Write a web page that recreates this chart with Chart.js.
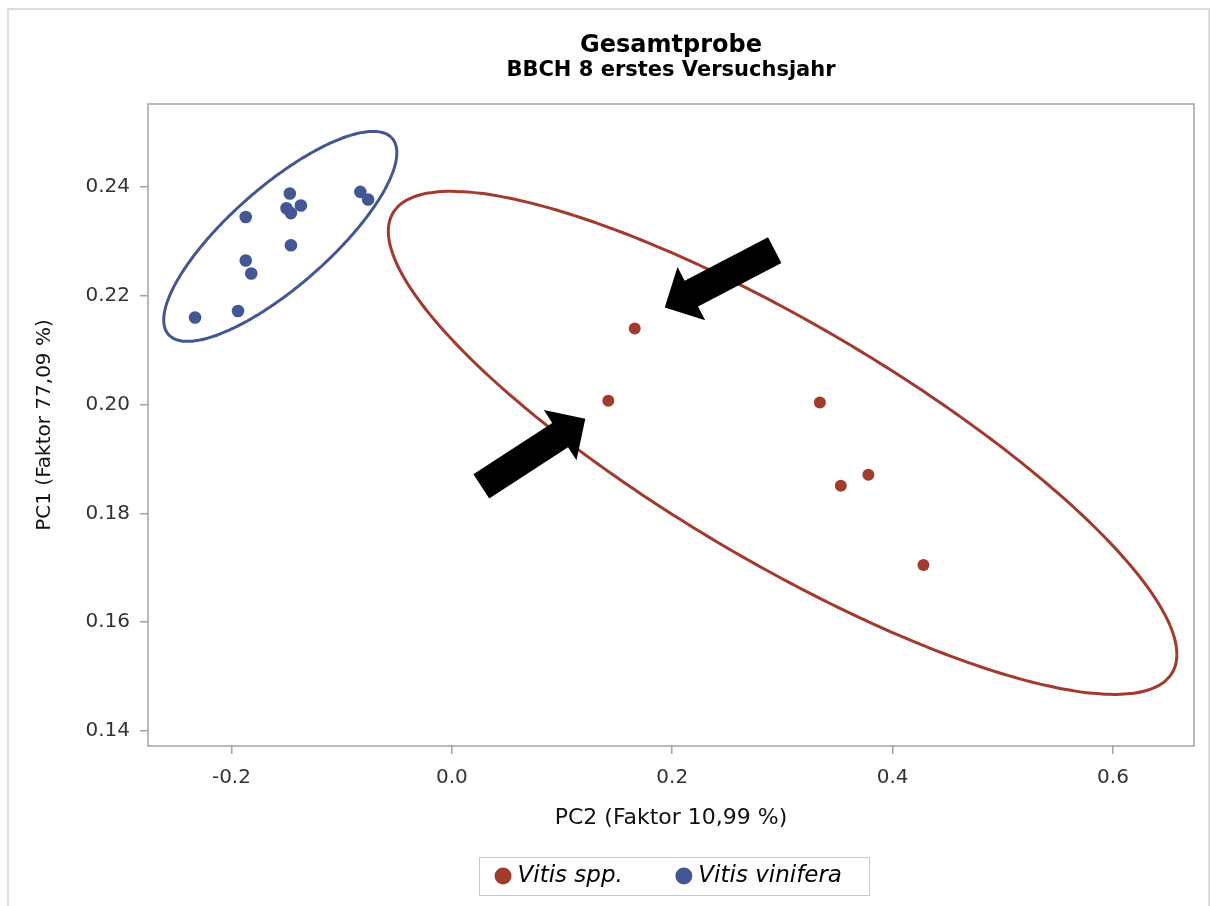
<!DOCTYPE html>
<html>
<head>
<meta charset="utf-8">
<title>Gesamtprobe - BBCH 8 erstes Versuchsjahr</title>
<script src="https://cdn.jsdelivr.net/npm/chart.js@4.4.1/dist/chart.umd.min.js"></script>
<style>
  html, body { margin: 0; padding: 0; background: #fff; }
  canvas { display: block; }
</style>
</head>
<body>
<canvas id="pcaChart" width="1212" height="906"></canvas>
<script>
// Scores (PC2 on x, PC1 on y)
const sppPC2 = [0.166, 0.142, 0.334, 0.353, 0.378, 0.428];
const sppPC1 = [0.2140, 0.2007, 0.2004, 0.1851, 0.1871, 0.1705];

const viniferaPC2 = [-0.233, -0.194, -0.187, -0.182, -0.187, -0.147, -0.150, -0.146, -0.137, -0.146, -0.083, -0.076];
const viniferaPC1 = [0.2160, 0.2172, 0.2265, 0.2241, 0.2345, 0.2388, 0.2361, 0.2352, 0.2366, 0.2293, 0.2391, 0.2377];

const seriesNames = ["Vitis spp.", "Vitis vinifera"];
const xTicks = [-0.2, 0.0, 0.2, 0.4, 0.6];
const yTicks = [0.14, 0.16, 0.18, 0.20, 0.22, 0.24];

// prediction ellipse level that fits the drawn ellipses
const ELLIPSE_LEVEL = 0.85;

const RED = "#A23A2E";
const BLUE = "#445694";
const AXIS = "#a3a3a3";
const FONT = "'DejaVu Sans', sans-serif";
const LEGEND_FONT = 23;

Chart.defaults.font.family = FONT;

// F quantile with 2 numerator df has a closed form
function fQuantile2(d, level) {
  return (d / 2) * (Math.pow(1 - level, -2 / d) - 1);
}

// Prediction ellipse of a group (same idea as SAS ELLIPSE statement)
function predictionEllipse(xs, ys, level, steps) {
  const n = xs.length;
  const mx = xs.reduce((a, b) => a + b, 0) / n;
  const my = ys.reduce((a, b) => a + b, 0) / n;
  let sxx = 0, syy = 0, sxy = 0;
  for (let i = 0; i < n; i++) {
    sxx += (xs[i] - mx) ** 2;
    syy += (ys[i] - my) ** 2;
    sxy += (xs[i] - mx) * (ys[i] - my);
  }
  sxx /= n - 1; syy /= n - 1; sxy /= n - 1;

  const c = Math.sqrt(2 * (n - 1) * (n + 1) / (n * (n - 2)) * fQuantile2(n - 2, level));
  const l11 = Math.sqrt(sxx);
  const l21 = sxy / l11;
  const l22 = Math.sqrt(syy - l21 * l21);

  const pts = [];
  for (let k = 0; k <= steps; k++) {
    const t = 2 * Math.PI * k / steps;
    const u = Math.cos(t), v = Math.sin(t);
    pts.push({ x: mx + c * l11 * u, y: my + c * (l21 * u + l22 * v) });
  }
  return pts;
}

const toPoints = (xs, ys) => xs.map((v, i) => ({ x: v, y: ys[i] }));

// light frame round the whole picture + box round the plot area
const framePlugin = {
  id: "frames",
  beforeDraw(chart) {
    const ctx = chart.ctx;
    ctx.save();
    ctx.strokeStyle = "#dcdcdc";
    ctx.lineWidth = 2;
    ctx.beginPath();
    ctx.moveTo(8, chart.height);
    ctx.lineTo(8, 9);
    ctx.lineTo(1209, 9);
    ctx.lineTo(1209, chart.height);
    ctx.stroke();
    ctx.restore();
  },
  beforeDatasetsDraw(chart) {
    const { ctx, chartArea: a } = chart;
    ctx.save();
    ctx.strokeStyle = AXIS;
    ctx.lineWidth = 1.5;
    ctx.strokeRect(a.left, a.top, a.right - a.left, a.bottom - a.top);
    ctx.restore();
  }
};

// black block arrows pointing at two Vitis spp. samples
const arrowPlugin = {
  id: "arrows",
  afterDatasetsDraw(chart, args, opts) {
    const { ctx, scales: { x, y } } = chart;
    opts.items.forEach(a => {
      const tipX = x.getPixelForValue(sppPC2[a.index]) + a.dx;
      const tipY = y.getPixelForValue(sppPC1[a.index]) + a.dy;
      ctx.save();
      ctx.translate(tipX, tipY);
      ctx.rotate(a.angle * Math.PI / 180);
      ctx.fillStyle = "#000";
      ctx.beginPath();
      ctx.moveTo(0, 0);
      ctx.lineTo(-a.head, a.headWidth);
      ctx.lineTo(-a.head, a.shaftWidth);
      ctx.lineTo(-a.length, a.shaftWidth);
      ctx.lineTo(-a.length, -a.shaftWidth);
      ctx.lineTo(-a.head, -a.shaftWidth);
      ctx.lineTo(-a.head, -a.headWidth);
      ctx.closePath();
      ctx.fill();
      ctx.restore();
    });
  }
};

// grey box round the legend
const legendFramePlugin = {
  id: "legendFrame",
  afterDraw(chart, args, opts) {
    const boxes = chart.legend.legendHitBoxes;
    if (!boxes || !boxes.length) return;
    const first = boxes[0];
    const last = boxes[boxes.length - 1];
    const cy = first.top + opts.fontSize / 2;
    const left = Math.round(first.left - 21) + 0.5;
    const right = Math.round(last.left + last.width + 27) + 0.5;
    const ctx = chart.ctx;
    ctx.save();
    ctx.strokeStyle = "#c8c8c8";
    ctx.lineWidth = 1;
    ctx.strokeRect(left, Math.round(cy - 19) + 0.5, right - left, 38);
    ctx.restore();
  }
};

new Chart(document.getElementById("pcaChart"), {
  type: "scatter",
  data: {
    datasets: [
      {
        label: seriesNames[0],
        data: toPoints(sppPC2, sppPC1),
        backgroundColor: RED,
        borderColor: RED,
        pointRadius: 6,
        pointBorderWidth: 0
      },
      {
        label: seriesNames[1],
        data: toPoints(viniferaPC2, viniferaPC1),
        backgroundColor: BLUE,
        borderColor: BLUE,
        pointRadius: 6.3,
        pointBorderWidth: 0
      },
      {
        label: "ellipse spp",
        data: predictionEllipse(sppPC2, sppPC1, ELLIPSE_LEVEL, 180),
        showLine: true,
        pointRadius: 0,
        borderColor: RED,
        borderWidth: 3,
        tension: 0.3
      },
      {
        label: "ellipse vinifera",
        data: predictionEllipse(viniferaPC2, viniferaPC1, ELLIPSE_LEVEL, 180),
        showLine: true,
        pointRadius: 0,
        borderColor: BLUE,
        borderWidth: 3,
        tension: 0.3
      }
    ]
  },
  options: {
    responsive: false,
    animation: false,
    devicePixelRatio: 1,
    layout: { padding: { left: 0, right: 18, top: 0, bottom: 8.5 } },
    plugins: {
      title: {
        display: true,
        text: "Gesamtprobe",
        fullSize: false,
        color: "#000",
        font: { size: 24, weight: "bold", lineHeight: 1 },
        padding: { top: 33.4, bottom: 0 }
      },
      subtitle: {
        display: true,
        text: "BBCH 8 erstes Versuchsjahr",
        fullSize: false,
        color: "#000",
        font: { size: 21, weight: "bold", lineHeight: 1 },
        padding: { top: 3.1, bottom: 22.5 }
      },
      legend: {
        position: "bottom",
        fullSize: false,
        labels: {
          filter: item => item.datasetIndex < 2,
          usePointStyle: true,
          pointStyle: "circle",
          boxWidth: 6,
          boxHeight: 12,
          padding: 58,
          color: "#000",
          font: { size: LEGEND_FONT, style: "italic" }
        }
      },
      tooltip: { enabled: false },
      legendFrame: { fontSize: LEGEND_FONT },
      arrows: {
        items: [
          { index: 0, dx: 30, dy: -21, angle: 152.5, length: 124, head: 30, headWidth: 30, shaftWidth: 14.5 },
          { index: 1, dx: -23, dy: 18, angle: -33, length: 124, head: 30, headWidth: 30, shaftWidth: 14.5 }
        ]
      }
    },
    scales: {
      x: {
        type: "linear",
        min: -0.2757,
        max: 0.6735,
        afterBuildTicks: s => { s.ticks = xTicks.map(v => ({ value: v })); },
        afterFit: s => { s.height = 60.5; },
        grid: { drawOnChartArea: false, drawTicks: true, tickLength: 8, color: AXIS, lineWidth: 1.5 },
        border: { display: false },
        ticks: {
          padding: 12,
          color: "#333",
          font: { size: 20 },
          maxRotation: 0,
          autoSkip: false,
          callback: v => v.toFixed(1)
        },
        title: {
          display: true,
          text: "PC2 (Faktor 10,99 %)",
          color: "#111",
          font: { size: 22 },
          padding: { top: 0, bottom: -24.7 }
        }
      },
      y: {
        type: "linear",
        min: 0.13724,
        max: 0.25526,
        afterBuildTicks: s => { s.ticks = yTicks.map(v => ({ value: v })); },
        afterFit: s => { s.width = 148; },
        grid: { drawOnChartArea: false, drawTicks: true, tickLength: 8, color: AXIS, lineWidth: 1.5 },
        border: { display: false },
        ticks: {
          padding: 10,
          color: "#333",
          font: { size: 20 },
          autoSkip: false,
          callback: v => v.toFixed(2)
        },
        title: {
          display: true,
          text: "PC1 (Faktor 77,09 %)",
          color: "#111",
          font: { size: 20 },
          padding: { top: 33, bottom: 0 }
        }
      }
    }
  },
  plugins: [framePlugin, arrowPlugin, legendFramePlugin]
});
</script>
</body>
</html>
